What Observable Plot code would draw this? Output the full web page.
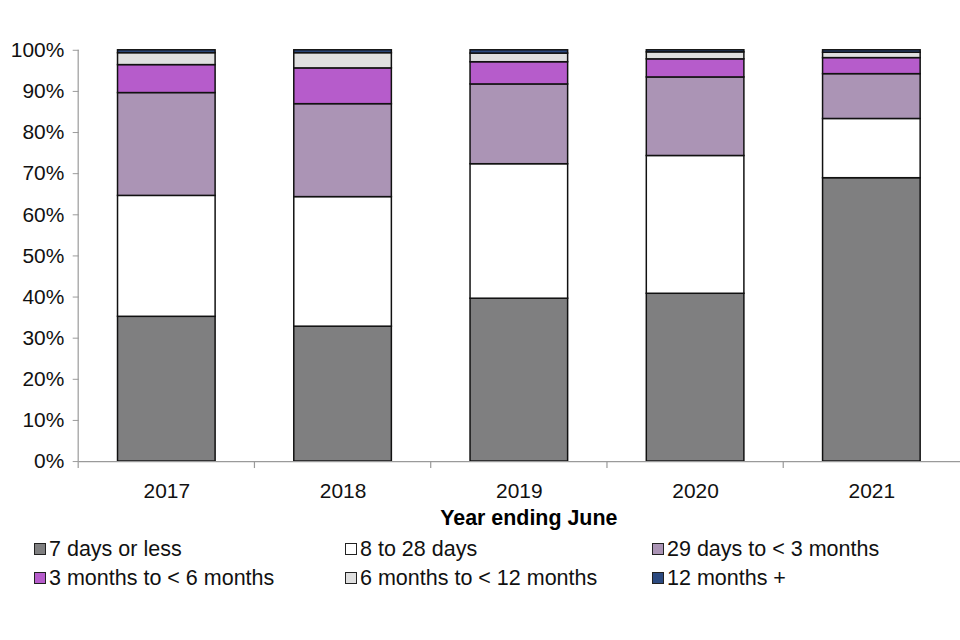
<!DOCTYPE html>
<html>
<head>
<meta charset="utf-8">
<script src="https://cdn.jsdelivr.net/npm/d3@7"></script>
<script src="https://cdn.jsdelivr.net/npm/@observablehq/plot@0.6"></script>
<style>
  html, body { margin: 0; padding: 0; background: #fff; overflow: hidden; width: 960px; height: 640px; }
  body { font-family: "Liberation Sans", Arial, sans-serif; }
  #chart { position: absolute; left: 0; top: 0; }
  .legend { position: absolute; left: 34px; top: 537px; display: grid; grid-template-columns: 311px 307px 300px; row-gap: 5px; font-size: 21.5px; color: #111; }
  .legend div { display: flex; align-items: center; height: 24px; }
  .sw { display: inline-block; width: 10px; height: 10px; border: 1px solid #222; margin-right: 3px; }
</style>
</head>
<body>
<div id="chart"></div>
<div class="legend" id="legend"></div>
<script>
const years = ["2017", "2018", "2019", "2020", "2021"];
const categories = ["7 days or less", "8 to 28 days", "29 days to < 3 months", "3 months to < 6 months", "6 months to < 12 months", "12 months +"];
const colors = ["#7f7f80", "#ffffff", "#ab94b5", "#b65ccb", "#dfdfdf", "#2c4a80"];
// percentage share per category, one array per year ending June
const v2017 = [35.2, 29.4, 25.0, 6.8, 2.9, 0.7];
const v2018 = [32.8, 31.5, 22.6, 8.7, 3.7, 0.7];
const v2019 = [39.6, 32.7, 19.4, 5.4, 2.1, 0.8];
const v2020 = [40.8, 33.5, 19.1, 4.4, 1.7, 0.5];
const v2021 = [68.9, 14.4, 10.9, 3.9, 1.3, 0.6];
const yTicks = [0, 10, 20, 30, 40, 50, 60, 70, 80, 90, 100];

const series = [v2017, v2018, v2019, v2020, v2021];
const data = [];
years.forEach((yr, i) => categories.forEach((c, j) => data.push({year: yr, category: c, value: series[i][j]})));

const W = 964, left = 79;
const step = (W - left) / years.length;

const chart = Plot.plot({
  width: W,
  height: 531,
  marginLeft: left,
  marginRight: 0,
  marginTop: 50,
  marginBottom: 68,
  style: {fontFamily: "'Liberation Sans', Arial, sans-serif", fontSize: "21px", color: "#111", background: "#fff", overflow: "visible"},
  x: {domain: years, paddingInner: 0.446, paddingOuter: 0.223, label: null},
  y: {type: "linear", domain: [0, 100], label: null},
  color: {domain: categories, range: colors},
  marks: [
    Plot.axisY({ticks: yTicks, tickFormat: d => d + "%", tickSize: 6, tickPadding: 9, stroke: "#9a9a9a", color: "#111", label: null}),
    Plot.barY(data, {x: "year", y: "value", fill: "category", stroke: "#111", strokeWidth: 1.5, order: categories}),
    Plot.ruleY([0], {stroke: "#9a9a9a", strokeWidth: 1.2}),
    Plot.axisX({tickSize: 0, tickPadding: 22, color: "#111", label: null}),
    Plot.text(["Year ending June"], {frameAnchor: "bottom", dx: 9, dy: 64, fontWeight: "bold", fontSize: 21.5, fill: "#000"})
  ]
});
document.getElementById("chart").appendChild(chart);

// y axis line and boundary ticks below baseline, positioned from the library's scales
const sx = chart.scale("x"), sy = chart.scale("y");
const svg = d3.select(chart);
const y0 = sy.apply(0), y100 = sy.apply(100);
const gap = (step - sx.bandwidth) / 2;
svg.append("line").attr("x1", sx.apply(years[0]) - gap).attr("x2", sx.apply(years[0]) - gap)
  .attr("y1", y0).attr("y2", y100).attr("stroke", "#9a9a9a").attr("stroke-width", 1.2);
years.forEach(yr => {
  const xb = sx.apply(yr) - gap;
  svg.append("line").attr("x1", xb).attr("x2", xb).attr("y1", y0).attr("y2", y0 + 7).attr("stroke", "#9a9a9a").attr("stroke-width", 1.2);
});

const lg = document.getElementById("legend");
categories.forEach((c, i) => {
  const d = document.createElement("div");
  d.innerHTML = `<span class="sw" style="background:${colors[i]}"></span>${c}`;
  lg.appendChild(d);
});
</script>
</body>
</html>
